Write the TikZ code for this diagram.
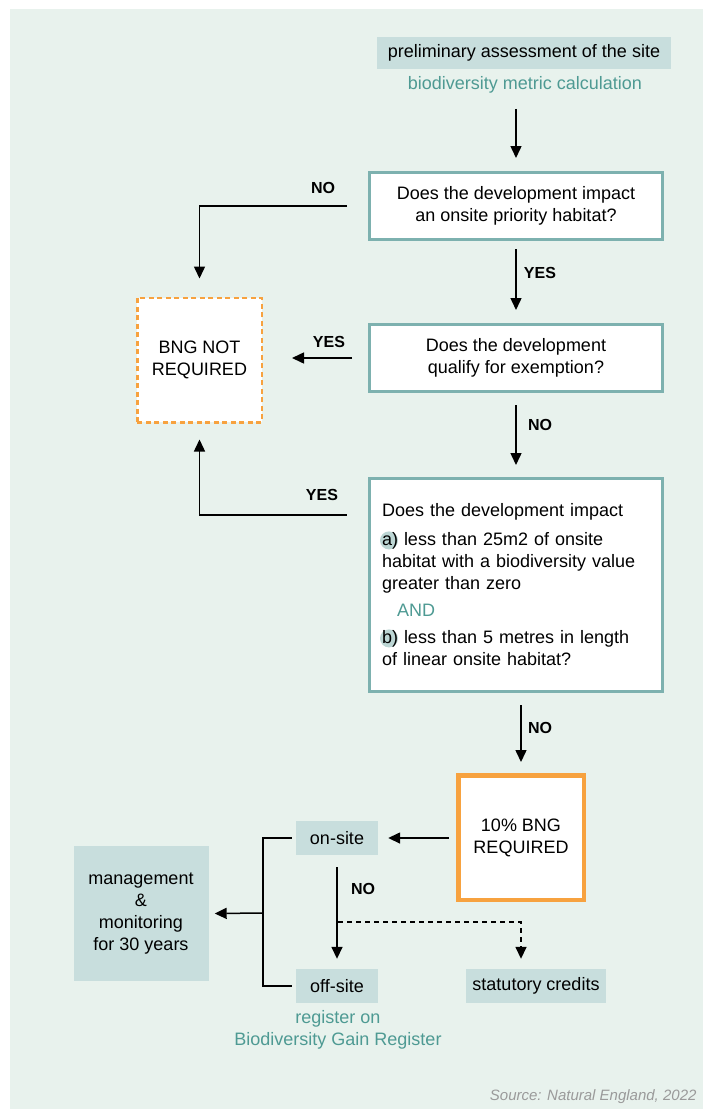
\documentclass[tikz,border=0pt]{standalone}
\usepackage{fontspec}
\setmainfont{Liberation Sans}
\usetikzlibrary{arrows.meta,positioning}
\definecolor{panelbg}{HTML}{E8F2ED}
\definecolor{boxgrey}{HTML}{C8DEDD}
\definecolor{dotgrey}{HTML}{BCD6D4}
\definecolor{rimteal}{HTML}{7DB1AF}
\definecolor{txtteal}{HTML}{4E9A93}
\definecolor{bngorange}{HTML}{F7A23F}
\definecolor{srcgrey}{HTML}{9A9A9A}
\newcommand{\dotlab}[1]{\tikz[overlay,baseline=0pt]{\fill[dotgrey] (7pt,5.5pt) circle[radius=9pt];}#1}
\begin{document}
\begin{tikzpicture}[x=1pt,y=-1pt,
  txt/.style={font=\fontsize{18}{22}\selectfont},
  greybox/.style={txt,fill=boxgrey,inner sep=0pt,align=center},
  qbox/.style={txt,draw=rimteal,line width=3pt,fill=white,minimum width=293pt,align=center},
  lbl/.style={font=\bfseries\fontsize{16}{19}\selectfont},
  arr/.style={line width=1.5pt,-{Triangle[length=12pt,width=11pt]}}]
\useasboundingbox (0,0) rectangle (703,1109);
\fill[panelbg] (10,9) rectangle (703,1109);

\node[greybox,minimum width=294pt,minimum height=32pt] (prelim) at (524,52.5) {preliminary assessment of the site};
\node[txt,text=txtteal] (metric) at (525,85) {biodiversity metric calculation};
\node[qbox,minimum height=67pt] (q1) at (516,206) {Does the development impact\\an onsite priority habitat?};
\node[txt,draw=bngorange,line width=2.5pt,dash pattern=on 5pt off 3.5pt,fill=white,
      minimum width=124.5pt,minimum height=124.5pt,align=center] (notreq) at (199.5,360) {BNG NOT\\REQUIRED};
\node[qbox,minimum height=67pt] (q2) at (516,358) {Does the development\\qualify for exemption?};
\node[qbox,minimum height=213pt,text width=267pt,align=left] (q3) at (515.5,585)
  {Does the development impact\\[7pt]
   \dotlab{a)} less than 25m2 of onsite\\
   habitat with a biodiversity value\\
   greater than zero\\[5pt]
   \hspace*{15pt}{\color{txtteal}AND}\\[5pt]
   \dotlab{b)} less than 5 metres in length\\
   of linear onsite habitat?};
\node[txt,draw=bngorange,line width=4.5pt,fill=white,minimum width=125.5pt,minimum height=124.5pt,
      align=center] (req) at (521,837.5) {10\% BNG\\REQUIRED};
\node[greybox,minimum width=82pt,minimum height=34pt] (onsite) at (337,838) {on-site};
\node[greybox,minimum width=82pt,minimum height=34pt] (offsite) at (337,986) {off-site};
\node[txt,text=txtteal,align=center,anchor=north] (register) at (338,1007) {register on\\Biodiversity Gain Register};
\node[greybox,minimum width=140pt,minimum height=34pt] (credits) at (536,986) {statutory credits};
\node[greybox,minimum width=135pt,minimum height=135pt] (mgmt) at (141,913.5) {management\\\&\\monitoring\\for 30 years};
\node[anchor=east,text=srcgrey,font=\itshape\fontsize{15}{18}\selectfont] (src) at (700,1097) {Source: Natural England, 2022};

\coordinate (split) at (338,922);
\coordinate (join) at (263,913);

\draw[arr] ([yshift=-12pt]metric.south -| q1.north) -- ([yshift=13pt]q1.north);
\draw[arr] ([xshift=-21pt]q1.west) -| ([yshift=18pt]notreq.north);
\draw[arr] ([yshift=-8pt]q1.south) -- ([yshift=13pt]q2.north);
\draw[arr] ([xshift=-16pt]q2.west) -- ([xshift=29pt]notreq.east |- q2.west);
\draw[arr] ([yshift=-12pt]q2.south) -- ([yshift=12pt]q3.north -| q2.north);
\draw[arr] ([xshift=-21pt,yshift=-38pt]q3.north west) -| ([yshift=-16pt]notreq.south);
\draw[arr] ([yshift=-12pt]q3.south -| req.north) -- ([yshift=11pt]req.north);
\draw[arr] ([xshift=-7pt]req.west |- onsite.east) -- ([xshift=10pt]onsite.east);
\draw[arr] ([yshift=-12pt]onsite.south) -- ([yshift=10pt]offsite.north);
\draw[arr,dash pattern=on 5pt off 4pt] (split) -| ([yshift=10pt]credits.north -| req.south);
\draw[line width=1.5pt] ([xshift=-4pt]onsite.west) -| (join) |- ([xshift=-4pt]offsite.west);
\draw[arr] (join) -- ([xshift=6pt]mgmt.east);

\node[lbl] (no1) at (323,188) {NO};
\node[lbl] (yes1) at (540,273) {YES};
\node[lbl] (yes2) at (329,342) {YES};
\node[lbl] (no2) at (540,425) {NO};
\node[lbl] (yes3) at (322,495) {YES};
\node[lbl] (no3) at (540,728) {NO};
\node[lbl] (no4) at (363,889) {NO};
\end{tikzpicture}
\end{document}
